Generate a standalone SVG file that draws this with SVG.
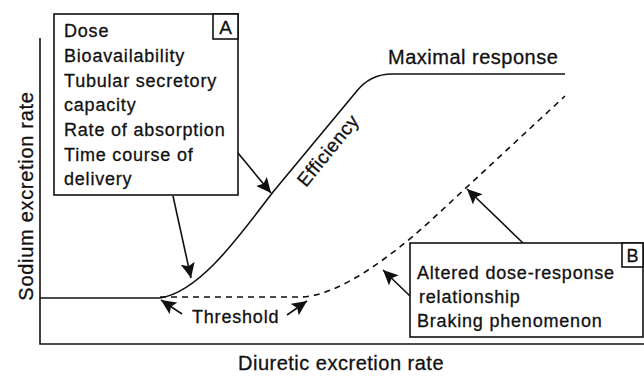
<svg xmlns="http://www.w3.org/2000/svg" width="644" height="376" viewBox="0 0 644 376">
<defs>
<style>
text{font-family:"Liberation Sans",Arial,sans-serif;fill:#111;stroke:#111;stroke-width:0.3px;}
.t{font-size:18px;letter-spacing:0.8px;}
.ax{font-size:20px;letter-spacing:0.5px;}
.ln{fill:none;stroke:#111;stroke-width:1.6;}
.box{fill:#fff;stroke:#111;stroke-width:1.6;}
.arr{fill:none;stroke:#111;stroke-width:1.6;marker-end:url(#ah);}
</style>
<marker id="ah" markerUnits="userSpaceOnUse" markerWidth="16" markerHeight="14" refX="15" refY="7" orient="auto">
<path d="M0,0 L15,7 L0,14 L3,7 z" fill="#111"/>
</marker>
</defs>
<rect width="644" height="376" fill="#fff"/>
<g id="axes">
<path class="ln" d="M40,38 V344 H644"/>
<text class="ax" transform="translate(33,196) rotate(-90)" text-anchor="middle" style="letter-spacing:0.7px">Sodium excretion rate</text>
<text class="ax" x="238" y="370">Diuretic excretion rate</text>
</g>
<g id="curves">
<path class="ln" stroke-width="1.8" d="M40,298 H160 C200,292 240,235 273,192 L356,92 Q370,74 392,74 H565"/>
<path class="ln" stroke-width="1.8" stroke-dasharray="6,5" d="M160,297 H300 C340,297 400,250 440,212 L565,96"/>
</g>
<g id="labels">
<text x="388" y="64" style="font-size:20px;letter-spacing:0.5px">Maximal response</text>
<text transform="translate(306,188) rotate(-51)" style="font-size:19px;letter-spacing:0.5px">Efficiency</text>
<text class="t" x="192" y="323">Threshold</text>
</g>
<g id="boxA">
<rect class="box" x="54" y="14" width="184" height="181"/>
<rect class="box" x="213" y="14" width="25" height="25"/>
<text x="225.5" y="34" text-anchor="middle" style="font-size:19px">A</text>
<text class="t" x="64" y="37">Dose</text>
<text class="t" x="64" y="62">Bioavailability</text>
<text class="t" x="64" y="87">Tubular secretory</text>
<text class="t" x="64" y="111">capacity</text>
<text class="t" x="64" y="136">Rate of absorption</text>
<text class="t" x="64" y="161">Time course of</text>
<text class="t" x="64" y="185">delivery</text>
</g>
<g id="boxB">
<rect class="box" x="410" y="243" width="233" height="94"/>
<rect class="box" x="622" y="243" width="21" height="24"/>
<text x="632.5" y="262" text-anchor="middle" style="font-size:18px">B</text>
<text class="t" x="417" y="279">Altered dose-response</text>
<text class="t" x="419" y="303">relationship</text>
<text class="t" x="417" y="327">Braking phenomenon</text>
</g>
<g id="connectors">
<line class="arr" x1="238" y1="153" x2="271" y2="193"/>
<line class="arr" x1="173" y1="196" x2="191" y2="278"/>
<line class="arr" x1="182" y1="314" x2="161" y2="300"/>
<line class="arr" x1="287" y1="315" x2="307" y2="301"/>
<line class="arr" x1="523" y1="243" x2="467" y2="189"/>
<line class="arr" x1="410" y1="296" x2="383" y2="270"/>
</g>
</svg>
